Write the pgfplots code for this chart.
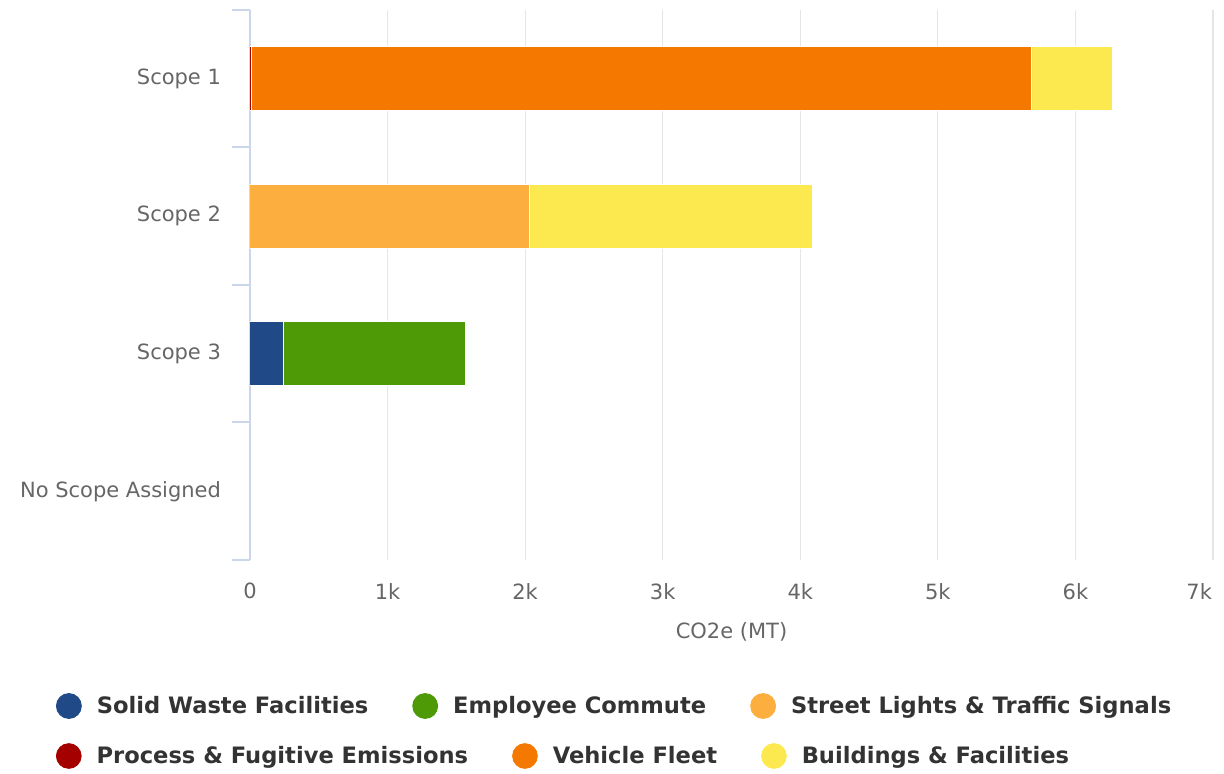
\documentclass[border=0pt]{standalone}
\usepackage{pgfplots}
\pgfplotsset{compat=1.18}
\usepackage{fontspec}
\setmainfont{DejaVu Sans}
\definecolor{cBlue}{HTML}{204A87}
\definecolor{cGreen}{HTML}{4E9A06}
\definecolor{cLOrange}{HTML}{FCAF3E}
\definecolor{cRed}{HTML}{A40000}
\definecolor{cOrange}{HTML}{F57900}
\definecolor{cYellow}{HTML}{FCE94F}
\definecolor{gridc}{HTML}{E6E6E6}
\definecolor{axisc}{HTML}{CCD6EB}
\definecolor{labc}{HTML}{666666}
\definecolor{legc}{HTML}{333333}
\pgfplotsset{
  circle legend/.style={legend image code/.code={\fill[#1] (0pt,0pt) circle (6.2pt);}},
  mylegend/.style={
    legend columns=-1,
    legend style={draw=none, fill=none, inner sep=0pt, outer sep=0pt,
      at={(axis description cs:0,0)}, anchor=west, #1,
      font=\fontsize{11.3}{13}\selectfont\bfseries, text=legc,
      nodes={inner sep=0pt},
      /tikz/every odd column/.append style={column sep=7.5pt},
      /tikz/every even column/.append style={column sep=22pt}},
  },
}
\begin{document}
\begin{tikzpicture}
\begin{axis}[name=main,
  scale only axis, width=481.5pt, height=275pt,
  xbar stacked, bar width=32pt,
  xmin=0, xmax=7000, ymin=-0.5, ymax=3.5,
  axis x line*=bottom, axis y line*=left,
  x axis line style={draw=none},
  y axis line style={draw=axisc, line width=1pt, -},
  xtick={0,1000,2000,3000,4000,5000,6000},
  xticklabels={0,1k,2k,3k,4k,5k,6k},
  extra x ticks={7000},
  extra x tick labels={7k},
  extra x tick style={xticklabel style={anchor=north east, xshift=3pt}},
  scaled x ticks=false,
  ytick={0,1,2,3},
  yticklabels={No Scope Assigned,Scope 3,Scope 2,Scope 1},
  major tick length=0pt,
  extra y ticks={-0.5,0.5,1.5,2.5,3.5},
  extra y tick labels={},
  extra y tick style={major tick length=9pt, tick align=outside,
    tick style={draw=axisc, line width=1pt}},
  xmajorgrids, grid style={draw=gridc, line width=0.6pt},
  ticklabel style={font=\fontsize{10.5}{12}\selectfont, text=labc},
  yticklabel style={xshift=-11pt},
  xticklabel style={yshift=-8pt},
  xlabel={CO2e (MT)},
  xlabel style={font=\fontsize{10.5}{12}\selectfont, text=labc,
    at={(axis description cs:0.5,0)}, anchor=center, yshift=-36pt},
  mylegend={yshift=-73pt, xshift=-97pt},
  every axis plot/.append style={draw=white, line width=0.5pt},
]
\addplot[fill=cBlue, circle legend=cBlue] coordinates {(0,3) (0,2) (247,1) (0,0)};
\addplot[fill=cGreen, circle legend=cGreen] coordinates {(0,3) (0,2) (1316,1) (0,0)};
\addplot[fill=cLOrange, circle legend=cLOrange] coordinates {(0,3) (2035,2) (0,1) (0,0)};
\addplot[fill=cRed, circle legend=cRed] coordinates {(12,3) (0,2) (0,1) (0,0)};
\addplot[fill=cOrange, circle legend=cOrange] coordinates {(5672,3) (0,2) (0,1) (0,0)};
\addplot[fill=cYellow, circle legend=cYellow] coordinates {(582,3) (2057,2) (0,1) (0,0)};
\legend{Solid Waste Facilities, Employee Commute, Street Lights \& Traffic Signals}
\end{axis}
\begin{axis}[scale only axis, width=481.5pt, height=275pt, hide axis,
  xmin=0, xmax=1, ymin=0, ymax=1,
  mylegend={yshift=-98pt, xshift=-97pt}]
\addlegendimage{circle legend=cRed}
\addlegendentry{Process \& Fugitive Emissions}
\addlegendimage{circle legend=cOrange}
\addlegendentry{Vehicle Fleet}
\addlegendimage{circle legend=cYellow}
\addlegendentry{Buildings \& Facilities}
\end{axis}
\pgfresetboundingbox
\path (main.south west) ++(-125pt,-107pt) rectangle ++(612pt,387pt);
\end{tikzpicture}
\end{document}
